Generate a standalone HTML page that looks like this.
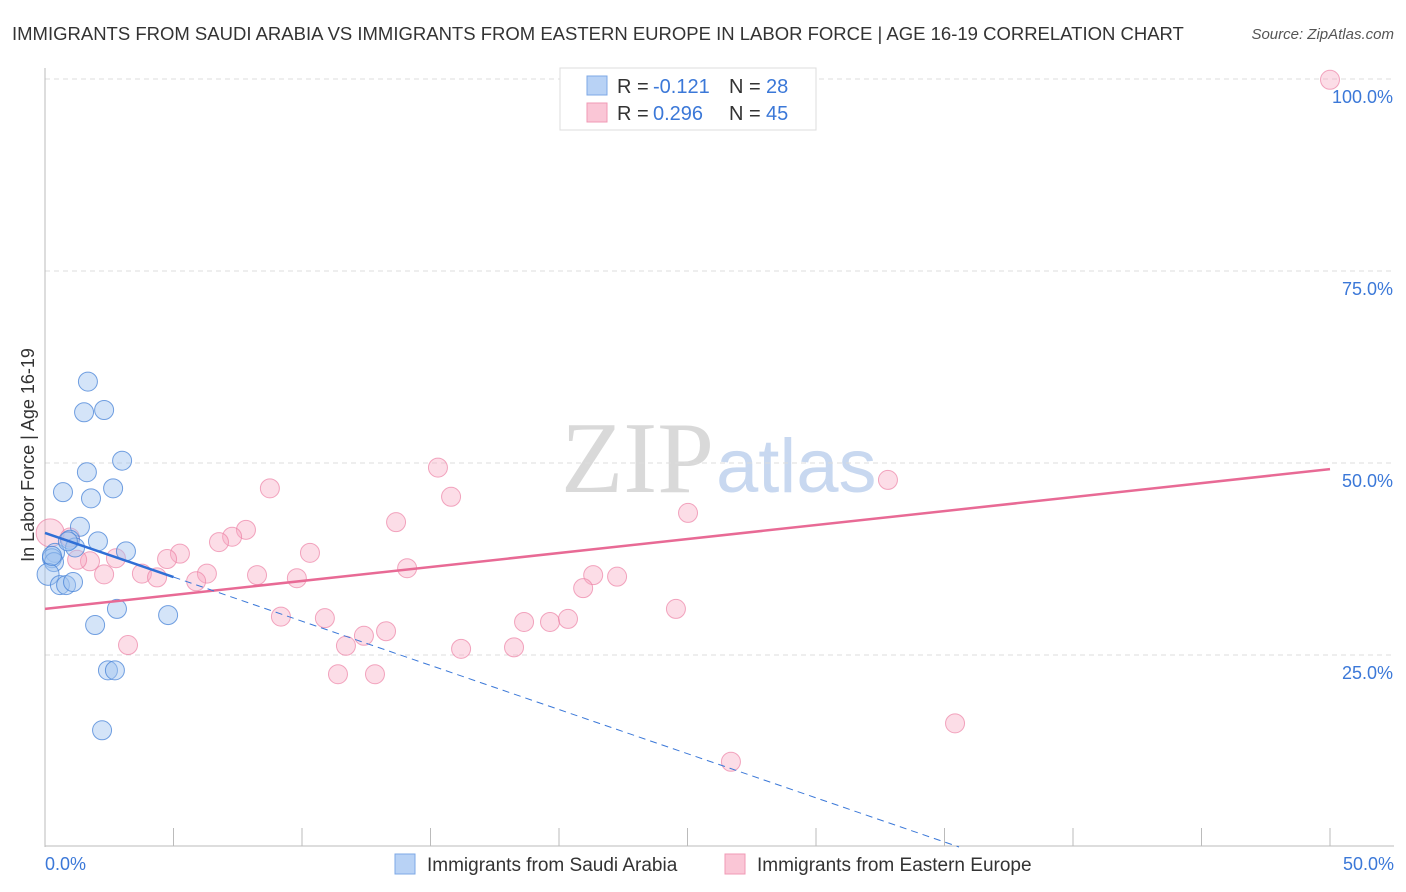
<!DOCTYPE html>
<html><head><meta charset="utf-8"><style>
body{margin:0;background:#fff;font-family:"Liberation Sans",sans-serif;}
#wrap{position:relative;width:1406px;height:892px;overflow:hidden;}
</style></head><body>
<div id="wrap">
<svg id="svg" width="1406" height="892" xmlns="http://www.w3.org/2000/svg">
<text x="12" y="40" font-size="18.5" fill="#333">IMMIGRANTS FROM SAUDI ARABIA VS IMMIGRANTS FROM EASTERN EUROPE IN LABOR FORCE | AGE 16-19 CORRELATION CHART</text>
<text x="1394" y="39" font-size="15" fill="#555" font-style="italic" text-anchor="end">Source: ZipAtlas.com</text>
<text x="714" y="492" font-size="102" fill="#d9d9d9" font-family="Liberation Serif,serif" text-anchor="end">ZIP</text>
<text x="716" y="492" font-size="76" fill="#c8d8f0">atlas</text>
<text transform="translate(34,455) rotate(-90)" font-size="18" fill="#333" text-anchor="middle">In Labor Force | Age 16-19</text>
<g id="grid"></g><g id="marks"></g>
<g>
<rect x="560" y="68" width="256" height="62" fill="#fff" stroke="#ddd"/>
<rect x="587" y="76" width="20" height="19" fill="#b8d2f5" stroke="#7ea8e6"/>
<rect x="587" y="103" width="20" height="19" fill="#fac6d6" stroke="#f09ab5"/>
<text x="617" y="93" font-size="20" fill="#333">R =</text>
<text x="653" y="93" font-size="20" fill="#3b78d8">-0.121</text>
<text x="729" y="93" font-size="20" fill="#333">N =</text>
<text x="766" y="93" font-size="20" fill="#3b78d8">28</text>
<text x="617" y="120" font-size="20" fill="#333">R =</text>
<text x="653" y="120" font-size="20" fill="#3b78d8">0.296</text>
<text x="729" y="120" font-size="20" fill="#333">N =</text>
<text x="766" y="120" font-size="20" fill="#3b78d8">45</text>
</g>
<g>
<rect x="395" y="854" width="20" height="20" fill="#b8d2f5" stroke="#7ea8e6"/>
<text x="427" y="871" font-size="19" fill="#333">Immigrants from Saudi Arabia</text>
<rect x="725" y="854" width="20" height="20" fill="#fac6d6" stroke="#f09ab5"/>
<text x="757" y="871" font-size="19" fill="#333">Immigrants from Eastern Europe</text>
</g>
</svg>
</div>
<script>
const blueX=[1.67,1.52,2.30,3.00,1.63,0.70,1.79,2.65,1.36,2.06,0.97,3.15,0.39,0.27,0.35,0.12,0.58,0.82,1.09,2.80,1.95,4.79,2.45,2.72,2.22,0.27,1.17,0.89];
const blueY=[60.6,56.6,56.9,50.3,48.8,46.2,45.4,46.7,41.7,39.8,40.0,38.5,38.3,37.6,37.1,35.5,34.1,34.1,34.5,31.0,28.9,30.2,23.0,23.0,15.2,37.9,39.0,39.8];
const pinkX=[50,15.29,32.80,8.75,15.80,13.66,25.02,7.82,7.28,6.77,5.25,4.75,2.76,1.75,1.25,10.31,6.30,3.77,4.36,2.30,5.88,9.80,8.25,14.09,21.33,22.26,20.94,9.18,10.89,24.55,18.64,19.65,20.35,13.27,12.41,11.71,16.19,18.25,3.23,11.40,12.84,35.41,26.69,0.20,0.97];
const pinkY=[99.9,49.4,47.8,46.7,45.6,42.3,43.5,41.3,40.4,39.7,38.2,37.5,37.6,37.2,37.4,38.3,35.6,35.6,35.1,35.5,34.6,35.0,35.4,36.3,35.4,35.2,33.7,30.0,29.8,31.0,29.3,29.3,29.7,28.1,27.5,26.2,25.8,26.0,26.3,22.5,22.5,16.1,11.1,40.9,40.3];
const yTicks=[25,50,75,100];
const yTickLabels=["25.0%","50.0%","75.0%","100.0%"];
const blueTrend=[40.9,-1.15];
const pinkTrend=[31.0,0.364];
const X=v=>45+v/50*1285, Y=v=>847-v*7.68;
const NS="http://www.w3.org/2000/svg";
function mk(t,a,p){const e=document.createElementNS(NS,t);for(const k in a)e.setAttribute(k,a[k]);p.appendChild(e);return e;}
const g=document.getElementById('grid'),m=document.getElementById('marks');
yTicks.forEach((t,i)=>{
 const l=mk('line',{x1:45,x2:1394,y1:Y(t),y2:Y(t),stroke:'#ddd','stroke-dasharray':'5,4'},g);
 
 
 const tx=mk('text',{x:1393,y:Y(t)+24,'font-size':18,fill:'#3b78d8','text-anchor':'end'},g);tx.textContent=yTickLabels[i];
 
 
});
mk('line',{x1:45,x2:45,y1:68,y2:847,stroke:'#bbb'},g);
mk('line',{x1:45,x2:1394,y1:846,y2:846,stroke:'#bbb'},g);
for(let i=1;i<=10;i++){const l=mk('line',{x1:X(i*5),x2:X(i*5),y1:828,y2:846,stroke:'#bbb'},g);
 
 }
let t=mk('text',{x:45,y:870,'font-size':18,fill:'#3b78d8'},g);t.textContent="0.0%";


t=mk('text',{x:1394,y:870,'font-size':18,fill:'#3b78d8','text-anchor':'end'},g);t.textContent="50.0%";


pinkX.forEach((x,i)=>{const c=mk('circle',{cx:X(x),cy:Y(pinkY[i]),r:i==43?14:9.5,fill:'rgba(247,170,195,0.4)',stroke:'rgba(236,130,165,0.7)'},m);
 
 });
blueX.forEach((x,i)=>{const c=mk('circle',{cx:X(x),cy:Y(blueY[i]),r:i==15?11:9.5,fill:'rgba(160,195,240,0.45)',stroke:'rgba(70,130,215,0.75)'},m);
 
 });
let ln=mk('line',{x1:X(0),y1:Y(pinkTrend[0]),x2:X(50),y2:Y(pinkTrend[0]+50*pinkTrend[1]),stroke:'#e86a95','stroke-width':2.5},m);


const xz=-blueTrend[0]/blueTrend[1];
ln=mk('line',{x1:X(5),y1:Y(blueTrend[0]+5*blueTrend[1]),x2:X(xz),y2:Y(0),stroke:'#3b78d8','stroke-width':1,'stroke-dasharray':'7,5'},m);


ln=mk('line',{x1:X(0),y1:Y(blueTrend[0]),x2:X(5),y2:Y(blueTrend[0]+5*blueTrend[1]),stroke:'#2f6fd6','stroke-width':2.5},m);


</script>
</body></html>
